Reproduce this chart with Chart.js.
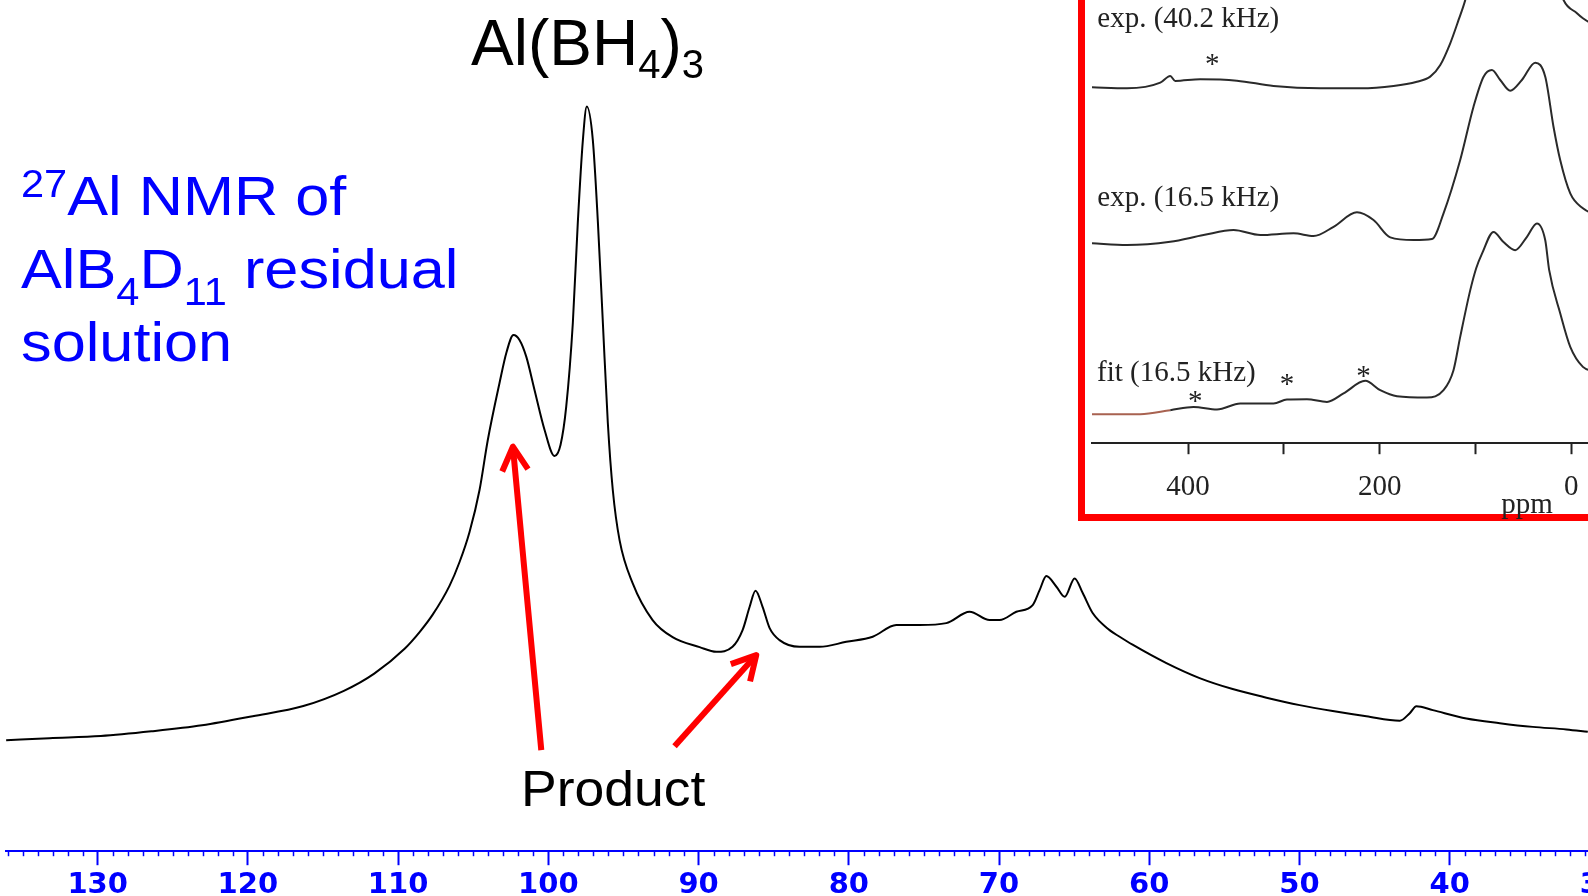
<!DOCTYPE html>
<html>
<head>
<meta charset="utf-8">
<script src="https://cdn.jsdelivr.net/npm/chart.js@4.4.1/dist/chart.umd.min.js"></script>
<style>
  html, body { margin: 0; padding: 0; background: #fff; }
  body { width: 1588px; height: 896px; overflow: hidden; position: relative;
         font-family: "Liberation Sans", Arial, sans-serif; }
  #spectrum { position: absolute; left: 0; top: 0; }
  .frame { position: absolute; left: 1078px; top: -20px; width: 700px; height: 534px;
           background: #fff; border-left: 7px solid #ff0000; border-bottom: 7px solid #ff0000; }
  #inset { position: absolute; left: 1085px; top: 0; filter: blur(0.5px); }
  .note { position: absolute; white-space: nowrap; transform-origin: 0 0; }
  .note sup, .note sub { vertical-align: baseline; position: relative; line-height: 0; }
  .blue { left: 21px; top: 159px; font-size: 56px; line-height: 73px; color: #0000ff; transform: scaleX(1.094); }
  .blue sup { font-size: 38px; top: -18px; }
  .blue sub { font-size: 38px; top: 17px; }
  .compound { left: 471px; top: 11px; font-size: 64px; line-height: 64px; color: #000; }
  .compound sub { font-size: 40px; top: 13px; }
  .product { left: 521px; top: 764px; font-size: 50px; line-height: 50px; color: #000; transform: scaleX(1.07); }
</style>
</head>
<body>
<canvas id="spectrum" width="1640" height="905"></canvas>
<div class="frame"></div>
<canvas id="inset" width="600" height="530"></canvas>

<div class="note blue">
  <div><sup>27</sup>Al NMR of</div>
  <div>AlB<sub>4</sub>D<sub>11</sub> residual</div>
  <div>solution</div>
</div>
<div class="note compound">Al(BH<sub>4</sub>)<sub>3</sub></div>
<div class="note product">Product</div>

<script>
// 27Al spectrum of the residual solution (ppm, arbitrary intensity)
const mainPpm = [136.09, 133.21, 129.79, 126.42, 123.05, 119.68, 116.31, 113.61, 111.59, 109.55,
  108.57, 107.71, 106.58, 105.91, 105.25, 104.58, 104.03, 103.25,
  102.78, 102.32, 101.92, 101.47, 100.92, 100.25, 99.59, 99.19, 98.81, 98.37,
  98.04, 97.70, 97.44, 97.04, 96.70, 96.37, 96.04, 95.71, 95.26, 94.39,
  93.06, 91.73, 89.93, 88.82, 87.74, 87.07, 86.60, 86.21, 85.74, 85.27,
  84.61, 83.28, 81.94, 80.17, 78.41, 76.84, 75.29, 73.51, 71.96, 70.63,
  69.96, 68.85, 67.76, 67.30, 66.85, 66.18, 65.63, 64.97, 64.43, 63.77,
  62.64, 61.97, 61.11, 58.86, 56.65, 54.45, 52.20, 49.99, 47.79, 45.55,
  43.33, 42.66, 42.22, 41.13, 38.89, 36.67, 34.47, 32.23, 30.81];
const mainInt = [14.90, 15.17, 15.45, 16.08, 16.89, 18.11, 19.48, 21.52, 23.83, 27.20,
  29.40, 31.70, 35.60, 38.80, 42.80, 48.46, 55.17, 62.82,
  66.98, 69.26, 68.59, 66.35, 61.88, 56.51, 53.02, 54.50, 59.64, 70.87,
  84.30, 95.44, 99.91, 95.44, 84.30, 70.87, 57.45, 48.46, 41.74, 35.97,
  31.01, 28.72, 27.38, 26.75, 27.42, 29.66, 32.79, 34.94, 32.79, 29.93,
  28.32, 27.42, 27.42, 28.09, 28.77, 30.34, 30.34, 30.60, 32.12, 31.01,
  31.01, 32.12, 33.02, 35.03, 36.91, 35.48, 34.13, 36.60, 34.63, 31.95,
  29.66, 28.77, 27.70, 25.23, 23.22, 21.75, 20.60, 19.60, 18.80, 18.10,
  17.50, 18.52, 19.46, 18.93, 17.81, 17.18, 16.68, 16.34, 16.01];
const mainTicks = [30, 40, 50, 60, 70, 80, 90, 100, 110, 120, 130];

// arrows from the "Product" label to the two product peaks
const productArrows = [
  { from: [100.47, 13.56], to: [102.36, 54.27] },
  { from: [91.60, 14.09], to: [86.16, 26.31] }
];

// inset: MAS spectra, each trace relative to its own baseline
const exp40Ppm = [500.3, 463.8, 429.0, 418.6, 413.4, 387.3, 349.0, 310.8, 262.0, 220.3,
  185.5, 161.1, 147.2, 136.7, 126.3, 117.6, 110.6, 100, 90, 82,
  72, 64, 52, 38, 27, 18, 8, -6, -12.2, -25];
const exp40Int = [0, -0.55, 2.55, 6.26, 3.49, 4.43, 3.65, 0.72, -0.55, -0.55,
  0.72, 3.1, 5.87, 12.35, 24.36, 37.26, 48.34, 72, 93, 99,
  92, 86, 92, 101, 90, 66, 48.3, 41, 38.2, 34];
const exp16Ppm = [500.3, 463.8, 418.6, 383.8, 352.5, 324.6, 289.9, 269.0, 248.1, 223.7,
  206.4, 188.9, 164.6, 145.4, 133.3, 115.9, 102.0, 91.5, 82.8, 74.1,
  63.7, 51.5, 37.6, 27.1, 18.5, 11.5, 1.0, -12.2, -25.1];
const exp16Int = [0, -0.94, 0.89, 4.6, 7.36, 4.6, 5.54, 4.04, 9.19, 17.16,
  12.9, 3.32, 1.83, 2.38, 16.61, 46.12, 75.64, 92.25, 95.96, 90.42,
  84.5, 90.42, 100, 92.25, 64.56, 46.12, 27.69, 19.38, 15.67];
const fitPpm = [500.3, 449.9, 418.6, 394.3, 369.8, 345.5, 310.8, 296.8, 275.9, 255.0,
  237.7, 215.0, 199.4, 181.9, 150.6, 133.3, 122.9, 115.9, 105.4, 99.2,
  92.9, 81.1, 71.0, 58.5, 46.2, 35.8, 27.1, 23.0, 11.5, 1.0, -12.2, -25.1];
const fitInt = [0, 0, 2.21, 4.04, 2.6, 5.92, 5.92, 8.14, 8.31, 6.81,
  11.46, 18.44, 13.29, 9.97, 9.25, 13.29, 24.36, 42.8, 68.66, 80.8,
  89.15, 100.9, 95.4, 90.8, 98.2, 105.6, 96.3, 79.7, 55.9, 37.3, 26.2, 23.3];
const insetTicks = [-100, 0, 100, 200, 300, 400];

const insetLabels = [
  { text: 'exp. (40.2 kHz)', ppm: 494.8, y: 234.5 },
  { text: 'exp. (16.5 kHz)', ppm: 494.8, y: 135.5 },
  { text: 'fit (16.5 kHz)', ppm: 495.0, y: 38.5 }
];
const spinningSidebands = [
  { ppm: 374.7, y: 212.1 }, { ppm: 392.5, y: 25.6 },
  { ppm: 296.8, y: 34.9 }, { ppm: 216.8, y: 39.5 }
];

// vertical stacking of the three inset traces
const traceOffsets = [197.0, 110.6, 16.06];

const toPoints = (xs, ys, off = 0) => xs.map((x, i) => ({ x, y: ys[i] + off }));

/* ── minor ticks every 1 ppm on the main axis ── */
const minorTicks = {
  id: 'minorTicks',
  afterDraw(chart) {
    const sx = chart.scales.x, ctx = chart.ctx, y0 = chart.chartArea.bottom;
    ctx.save();
    ctx.strokeStyle = '#0000ff';
    ctx.lineWidth = 1.5;
    for (let v = Math.ceil(sx.min); v <= sx.max; v++) {
      if (v % 10 === 0) continue;
      const px = Math.round(sx.getPixelForValue(v)) + 0.5;
      ctx.beginPath(); ctx.moveTo(px, y0); ctx.lineTo(px, y0 + 5); ctx.stroke();
    }
    ctx.restore();
  }
};

/* ── red arrows ── */
const arrows = {
  id: 'arrows',
  afterDatasetsDraw(chart) {
    const { ctx, scales: { x, y } } = chart;
    ctx.save();
    ctx.strokeStyle = '#ff0000';
    ctx.lineWidth = 6;
    ctx.lineJoin = 'round';
    productArrows.forEach(a => {
      const x1 = x.getPixelForValue(a.from[0]), y1 = y.getPixelForValue(a.from[1]);
      const x2 = x.getPixelForValue(a.to[0]),   y2 = y.getPixelForValue(a.to[1]);
      const ang = Math.atan2(y2 - y1, x2 - x1), L = 27, w = 0.5;
      ctx.beginPath();
      ctx.moveTo(x1, y1);
      ctx.lineTo(x2 - 3 * Math.cos(ang), y2 - 3 * Math.sin(ang));
      ctx.stroke();
      ctx.beginPath();
      ctx.moveTo(x2 - L * Math.cos(ang - w), y2 - L * Math.sin(ang - w));
      ctx.lineTo(x2, y2);
      ctx.lineTo(x2 - L * Math.cos(ang + w), y2 - L * Math.sin(ang + w));
      ctx.stroke();
    });
    ctx.restore();
  }
};

/* ── inset annotations ── */
const insetText = {
  id: 'insetText',
  afterDraw(chart) {
    const { ctx, scales: { x, y } } = chart;
    ctx.save();
    ctx.fillStyle = '#222';
    ctx.font = '29px "Liberation Serif", "Times New Roman", serif';
    ctx.textAlign = 'left';
    ctx.textBaseline = 'middle';
    insetLabels.forEach(l => ctx.fillText(l.text, x.getPixelForValue(l.ppm), y.getPixelForValue(l.y)));
    ctx.textAlign = 'center';
    ctx.textBaseline = 'alphabetic';
    spinningSidebands.forEach(s => ctx.fillText('*', x.getPixelForValue(s.ppm), y.getPixelForValue(s.y) + 13));
    ctx.textBaseline = 'middle';
    ctx.fillText('ppm', x.getPixelForValue(46), chart.chartArea.bottom + 62);
    ctx.restore();
  }
};

new Chart(document.getElementById('spectrum'), {
  type: 'line',
  data: {
    datasets: [{
      data: toPoints(mainPpm, mainInt),
      borderColor: '#000',
      borderWidth: 2,
      pointRadius: 0,
      cubicInterpolationMode: 'monotone',
      fill: false
    }]
  },
  options: {
    responsive: false,
    animation: false,
    devicePixelRatio: 1,
    layout: { padding: { left: 6, right: 25, top: 0, bottom: 0 } },
    plugins: { legend: { display: false }, tooltip: { enabled: false } },
    scales: {
      x: {
        type: 'linear', reverse: true, min: 29, max: 136.1,
        afterBuildTicks: axis => { axis.ticks = mainTicks.map(v => ({ value: v })); },
        grid: { drawOnChartArea: false, drawTicks: true, tickLength: 14, tickColor: '#0000ff', tickWidth: 2 },
        border: { display: true, color: '#0000ff', width: 2 },
        ticks: {
          color: '#0000ff', padding: 2.5, maxRotation: 0, autoSkip: false,
          font: { family: '"DejaVu Sans", "Liberation Sans", sans-serif', size: 29, weight: 'bold' }
        }
      },
      y: { display: false, min: 0, max: 114.2 }
    }
  },
  plugins: [minorTicks, arrows]
});

new Chart(document.getElementById('inset'), {
  type: 'line',
  data: {
    datasets: [
      { data: toPoints(exp40Ppm, exp40Int, traceOffsets[0]) },
      { data: toPoints(exp16Ppm, exp16Int, traceOffsets[1]) },
      { data: toPoints(fitPpm, fitInt, traceOffsets[2]),
        segment: { borderColor: c => c.p0.parsed.x > 445 ? '#a86250' : undefined } }
    ].map(d => Object.assign({
      borderColor: '#2a2a2a', borderWidth: 2, pointRadius: 0,
      cubicInterpolationMode: 'monotone', fill: false
    }, d))
  },
  options: {
    responsive: false,
    animation: false,
    devicePixelRatio: 1,
    layout: { padding: { left: 7, right: 18, top: 0, bottom: 10 } },
    plugins: { legend: { display: false }, tooltip: { enabled: false } },
    scales: {
      x: {
        type: 'linear', reverse: true, min: -100, max: 500.3,
        afterBuildTicks: axis => { axis.ticks = insetTicks.map(v => ({ value: v })); },
        grid: { drawOnChartArea: false, drawTicks: true, tickLength: 11, tickColor: '#222', tickWidth: 2 },
        border: { display: true, color: '#222', width: 2 },
        ticks: {
          color: '#222', padding: 15.5, maxRotation: 0, autoSkip: false,
          font: { family: '"Liberation Serif", "Times New Roman", serif', size: 29 },
          callback: v => (v % 200 === 0 ? String(v) : '')
        }
      },
      y: { display: false, min: 0, max: 245.3 }
    }
  },
  plugins: [insetText]
});
</script>
</body>
</html>
